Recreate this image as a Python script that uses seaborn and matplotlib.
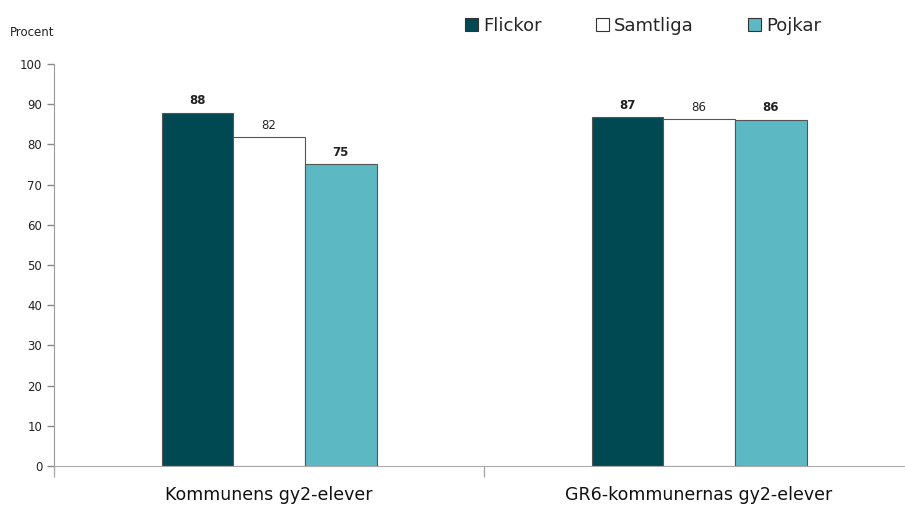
import pandas as pd
import matplotlib.pyplot as plt
from matplotlib.patches import Patch
import seaborn as sns

categories = ["Kommunens gy2-elever", "GR6-kommunernas gy2-elever"]
groups = ["Flickor", "Samtliga", "Pojkar"]
flickor = [87.8, 86.8]
samtliga = [81.8, 86.3]
pojkar = [75.1, 86.1]
labels = {"Flickor": ["88", "87"], "Samtliga": ["82", "86"], "Pojkar": ["75", "86"]}
colors = {"Flickor": "#004953", "Samtliga": "#ffffff", "Pojkar": "#5cb8c2"}

df = pd.DataFrame({
    "kategori": categories * 3,
    "grupp": [g for g in groups for _ in categories],
    "procent": flickor + samtliga + pojkar,
})

sns.set_style("white")
plt.rcParams["font.family"] = ["DejaVu Sans"]

fig = plt.figure(figsize=(9.05, 5.07), dpi=100)
ax = fig.add_axes([54 / 905, 41 / 507, 860 / 905, 402 / 507])

sns.barplot(data=df, x="kategori", y="procent", hue="grupp", hue_order=groups,
            palette=colors, saturation=1, width=0.5, edgecolor="#555555",
            linewidth=0.8, legend=False, ax=ax)

# value labels above bars
for cont, g in zip(ax.containers, groups):
    ax.bar_label(cont, labels=labels[g], padding=4, fontsize=8.5, color="#222222",
                 fontweight="bold" if g != "Samtliga" else "normal")

ax.set_ylim(0, 100)
ax.set_yticks(range(0, 101, 10))
ax.set_xlim(-0.5, 1.5)
ax.set_xticks([-0.5, 0.5, 1.5])
ax.set_xticklabels([])
ax.tick_params(axis="y", labelsize=8.5, colors="#888888", labelcolor="#222222",
               length=5, width=1, left=True, direction="out")
ax.tick_params(axis="x", length=8, width=1, colors="#aaaaaa", bottom=True, direction="out")
for i, c in enumerate(categories):
    ax.text(i, -7.2, c, ha="center", va="center", fontsize=12.5, color="#111111")
ax.set_xlabel("")
ax.set_ylabel("")
for s in ["top", "right"]:
    ax.spines[s].set_visible(False)
ax.spines["left"].set_color("#999999")
ax.spines["bottom"].set_color("#aaaaaa")

fig.text(10 / 905, 1 - 32 / 507, "Procent", fontsize=8.5, va="center", color="#222222")

handles = [Patch(facecolor=colors[g], edgecolor="#333333", linewidth=0.8) for g in groups]
fig.legend(handles, groups, loc="center", bbox_to_anchor=(643 / 905, 1 - 26 / 507),
           ncol=3, frameon=False, fontsize=13, handlelength=0.7, handleheight=0.7,
           handletextpad=0.3, columnspacing=3.0)

plt.savefig("out.png", dpi=100)
